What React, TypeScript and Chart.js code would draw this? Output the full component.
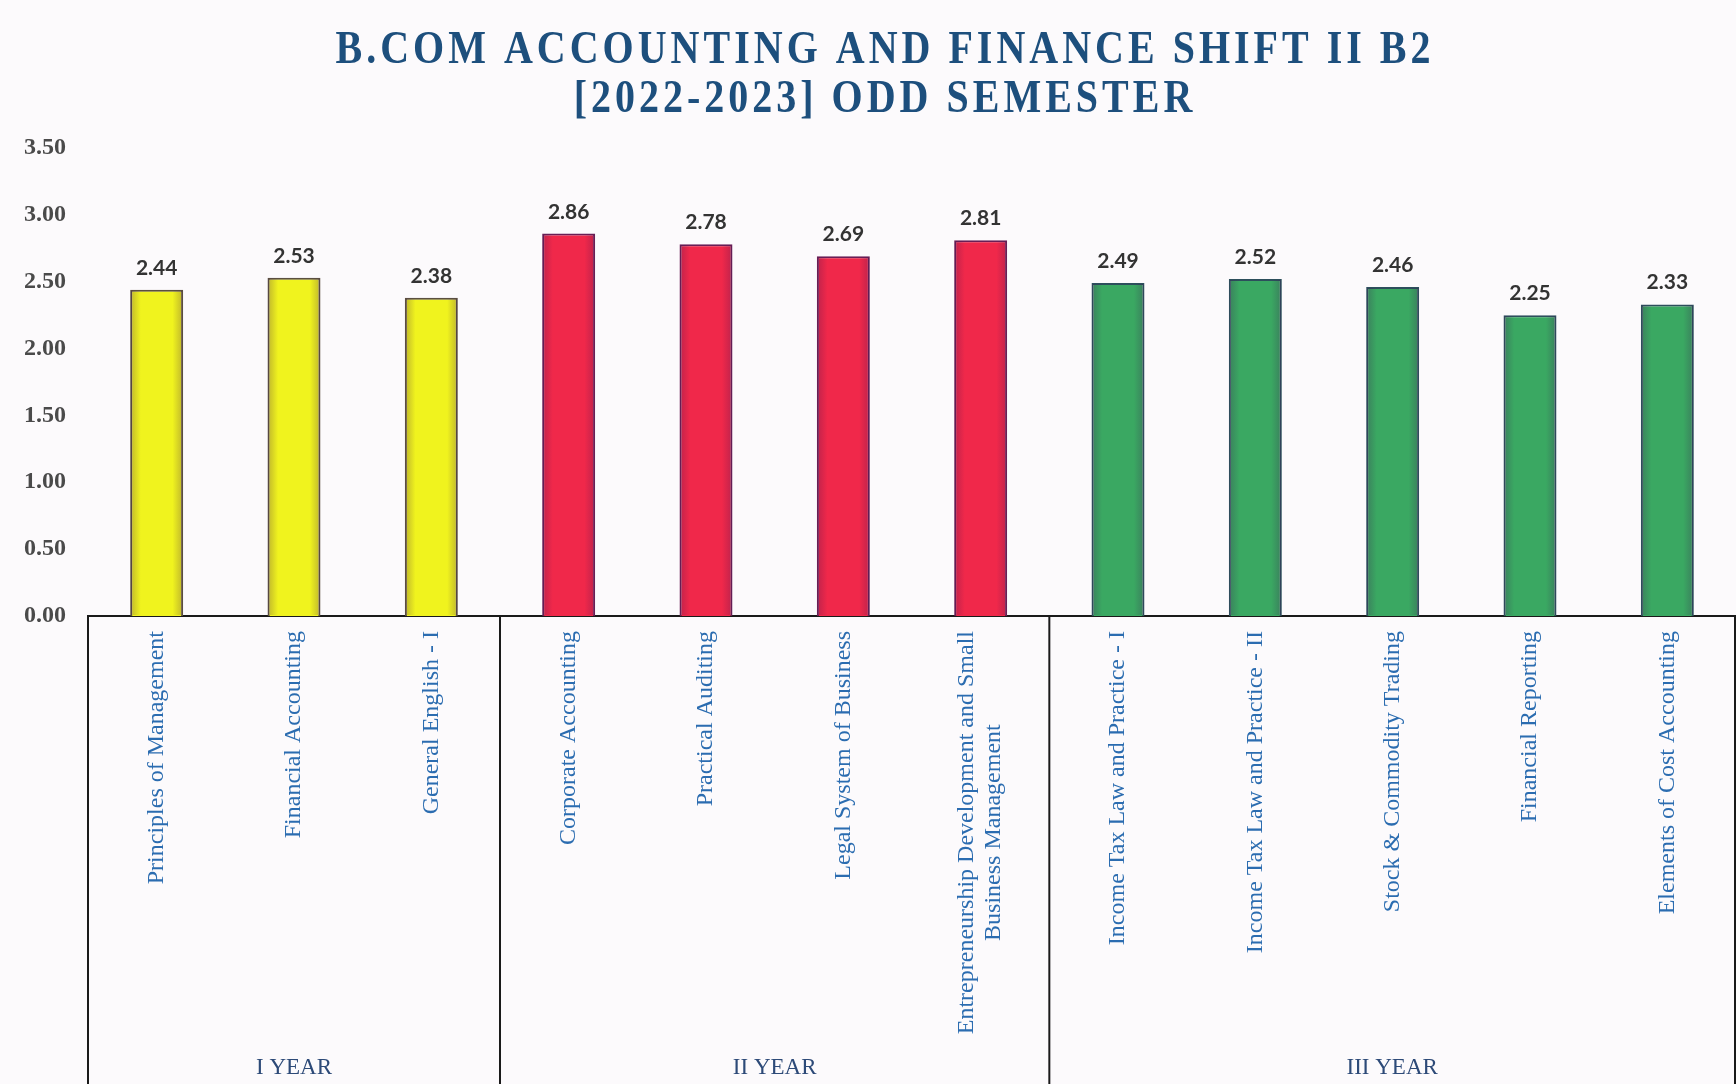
import React, { useEffect, useRef } from 'react';
import { Chart, registerables } from 'chart.js';

Chart.register(...registerables);

const titleLines = ['B.COM ACCOUNTING AND FINANCE SHIFT II B2', '[2022-2023] ODD SEMESTER'];

const subjects: (string | string[])[] = [
  'Principles of Management',
  'Financial Accounting',
  'General English - I',
  'Corporate Accounting',
  'Practical Auditing',
  'Legal System of Business',
  ['Entrepreneurship Development and Small', 'Business Management'],
  'Income Tax Law and Practice - I',
  'Income Tax Law and Practice - II',
  'Stock & Commodity Trading',
  'Financial Reporting',
  'Elements of Cost Accounting',
];

const scores = [2.44, 2.53, 2.38, 2.86, 2.78, 2.69, 2.81, 2.49, 2.52, 2.46, 2.25, 2.33];

const yearGroups = ['I YEAR', 'II YEAR', 'III YEAR'];
const groupSizes = [3, 4, 5];
const groupFill = ['#f0f31e', '#f0284a', '#3aa862'];
const groupBorder = ['#5b5040', '#6a1e55', '#2d4f5c'];

const yMin = 0;
const yMax = 3.5;
const yStep = 0.5;

const W = 1736;
const H = 1084;

function groupIndexOf(i: number): number {
  let acc = 0;
  for (let g = 0; g < groupSizes.length; g++) {
    acc += groupSizes[g];
    if (i < acc) return g;
  }
  return groupSizes.length - 1;
}

const barFill = scores.map((_, i) => groupFill[groupIndexOf(i)]);
const barBorder = scores.map((_, i) => groupBorder[groupIndexOf(i)]);

const decorPlugin = {
  id: 'decor',
  beforeDraw(chart: any) {
    const ctx = chart.ctx;
    ctx.save();
    ctx.fillStyle = '#fcfafc';
    ctx.fillRect(0, 0, chart.width, chart.height);
    ctx.restore();
  },
  afterDatasetsDraw(chart: any) {
    const ctx = chart.ctx;
    const meta = chart.getDatasetMeta(0);
    meta.data.forEach((bar: any, i: number) => {
      const { x, y, base, width } = bar.getProps(['x', 'y', 'base', 'width'], true);
      const left = x - width / 2;
      const g = ctx.createLinearGradient(left, 0, left + width, 0);
      g.addColorStop(0, 'rgba(60,20,80,0.28)');
      g.addColorStop(0.2, 'rgba(60,20,80,0.0)');
      g.addColorStop(0.8, 'rgba(60,20,80,0.0)');
      g.addColorStop(1, 'rgba(60,20,80,0.28)');
      ctx.save();
      ctx.fillStyle = g;
      ctx.fillRect(left + 1, y + 1, width - 2, base - y - 2);
      ctx.restore();
      ctx.save();
      ctx.font = 'bold 21px Lato, "Open Sans", sans-serif';
      ctx.fillStyle = '#333333';
      ctx.textAlign = 'center';
      ctx.textBaseline = 'alphabetic';
      ctx.fillText(scores[i].toFixed(2), x, y - 15);
      ctx.restore();
    });
  },
  afterDraw(chart: any) {
    const ctx = chart.ctx;
    const xs = chart.scales.x;
    const area = chart.chartArea;

    // Title
    ctx.save();
    ctx.fillStyle = '#1d4f7d';
    ctx.font = 'bold 40px "Liberation Serif", "Times New Roman", serif';
    ctx.textAlign = 'center';
    ctx.textBaseline = 'alphabetic';
    (ctx as any).letterSpacing = '4px';
    const baselines = [63, 112];
    titleLines.forEach((t, k) => {
      ctx.save();
      ctx.translate(883 + 2, baselines[k]);
      ctx.scale(1, 1.17);
      ctx.fillText(t, 0, 0);
      ctx.restore();
    });
    (ctx as any).letterSpacing = '0px';
    ctx.restore();

    // Category labels (rotated)
    ctx.save();
    ctx.fillStyle = '#2b6cb0';
    ctx.font = '24px "Liberation Serif", "Times New Roman", serif';
    const top = area.bottom + 15;
    const lh = 27;
    subjects.forEach((lab, i) => {
      const lines = Array.isArray(lab) ? lab : [lab];
      const cx = xs.getPixelForValue(i);
      const blockW = Math.max(...lines.map((l) => ctx.measureText(l).width));
      lines.forEach((line, j) => {
        const off = (j - (lines.length - 1) / 2) * lh;
        ctx.save();
        ctx.translate(cx + off, top + blockW / 2);
        ctx.rotate(-Math.PI / 2);
        ctx.textAlign = 'center';
        ctx.textBaseline = 'middle';
        ctx.fillText(line, 0, 0);
        ctx.restore();
      });
    });
    ctx.restore();

    // Group box lines
    ctx.save();
    ctx.strokeStyle = '#1a1a1a';
    ctx.lineWidth = 2;
    const bounds: number[] = [area.left];
    let acc = 0;
    groupSizes.forEach((n) => {
      acc += n;
      if (acc < scores.length) {
        bounds.push((xs.getPixelForValue(acc - 1) + xs.getPixelForValue(acc)) / 2);
      }
    });
    bounds.push(area.right - 1);
    bounds.forEach((bx) => {
      ctx.beginPath();
      ctx.moveTo(bx, area.bottom);
      ctx.lineTo(bx, H);
      ctx.stroke();
    });
    ctx.restore();

    // Group labels
    ctx.save();
    ctx.fillStyle = '#2d4a78';
    ctx.font = '23px "Liberation Serif", "Times New Roman", serif';
    ctx.textAlign = 'center';
    ctx.textBaseline = 'alphabetic';
    yearGroups.forEach((g, k) => {
      const cx = (bounds[k] + bounds[k + 1]) / 2;
      ctx.fillText(g, cx, 1074);
    });
    ctx.restore();
  },
};

export default function App() {
  const canvasRef = useRef<HTMLCanvasElement | null>(null);

  useEffect(() => {
    const canvas = canvasRef.current;
    if (!canvas) return;
    const chart = new Chart(canvas, {
      type: 'bar',
      data: {
        labels: subjects as any,
        datasets: [
          {
            data: scores,
            backgroundColor: barFill,
            borderColor: barBorder,
            borderWidth: 2,
            categoryPercentage: 1,
            barPercentage: 0.386,
          },
        ],
      },
      options: {
        responsive: false,
        animation: false,
        devicePixelRatio: 1,
        layout: { padding: { top: 148, left: 0, right: 0, bottom: 0 } },
        plugins: {
          legend: { display: false },
          title: { display: false },
          tooltip: { enabled: false },
        },
        scales: {
          x: {
            grid: { display: false, drawTicks: false },
            border: { display: true, color: '#1a1a1a', width: 2 },
            ticks: { display: false },
            afterFit: (s: any) => {
              s.height = H - 616;
            },
          },
          y: {
            min: yMin,
            max: yMax,
            grid: { display: false, drawTicks: false },
            border: { display: false },
            ticks: {
              stepSize: yStep,
              padding: 22,
              color: '#4a4a4a',
              font: { family: '"Liberation Serif", "Times New Roman", serif', size: 24, weight: 'bold' },
              callback: (v: any) => Number(v).toFixed(2),
            },
            afterFit: (s: any) => {
              s.width = 88;
            },
          },
        },
      },
      plugins: [decorPlugin],
    });
    return () => chart.destroy();
  }, []);

  return (
    <div style={{ position: 'fixed', left: 0, top: 0, width: W, height: H }}>
      <canvas ref={canvasRef} width={W} height={H} style={{ display: 'block', width: W, height: H }} />
    </div>
  );
}
